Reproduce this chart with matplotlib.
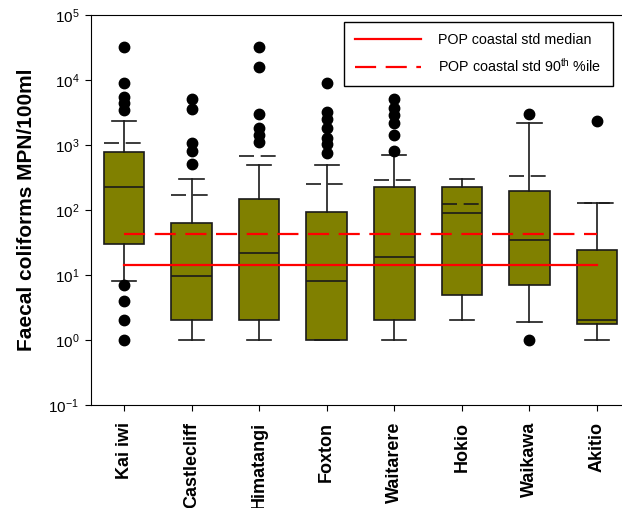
import matplotlib
matplotlib.use("Agg")
import matplotlib.pyplot as plt
import numpy as np

plt.rcParams['font.family'] = ['Liberation Sans', 'DejaVu Sans']
plt.rcParams['mathtext.fontset'] = 'custom'
plt.rcParams['mathtext.rm'] = 'Liberation Sans'
plt.rcParams['mathtext.it'] = 'Liberation Sans:italic'
plt.rcParams['mathtext.bf'] = 'Liberation Sans:bold'
plt.rcParams['axes.unicode_minus'] = False

# faecal coliform summaries per beach (MPN/100ml)
sites = ['Kai iwi', 'Castlecliff', 'Himatangi', 'Foxton', 'Waitarere', 'Hokio', 'Waikawa', 'Akitio']
q1 = [30, 2, 2, 1, 2, 5, 7, 1.75]
med = [225, 9.5, 22, 8, 19, 89, 35, 2]
q3 = [780, 63, 148, 93, 225, 225, 195, 24]
p10 = [8, 1, 1, 1, 1, 2, 1.9, 1]
p90 = [2340, 300, 490, 500, 700, 300, 2200, 127]
means = [1070, 170, 680, 250, 290, 123, 330, 127]
outliers = [
    [32000, 9000, 5500, 4500, 3500, 7, 4, 2, 1],
    [5100, 3600, 1070, 810, 510],
    [32000, 16000, 3000, 1800, 1400, 1100],
    [9000, 3200, 2500, 1800, 1300, 1040, 760],
    [5100, 3700, 2900, 2200, 1400, 810],
    [],
    [3000, 1],
    [2340],
]

# POP coastal standard
std_median = 14
std_p90 = 43

stats = []
for i in range(len(sites)):
    stats.append(dict(label=sites[i], q1=q1[i], med=med[i], q3=q3[i],
                      whislo=p10[i], whishi=p90[i], mean=means[i],
                      fliers=outliers[i]))

fig = plt.figure(figsize=(6.22, 5.08), dpi=100)
ax = fig.add_axes([0.1463, 0.2028, 0.8633, 0.7677])

pos = np.arange(1, len(sites) + 1)
ax.bxp(stats, positions=pos, widths=0.6, patch_artist=True,
       showmeans=True, meanline=True, capwidths=0.36,
       boxprops=dict(facecolor='#808000', edgecolor='#1a1a1a', linewidth=1.2),
       medianprops=dict(color='#1a1a1a', linewidth=1.2),
       whiskerprops=dict(color='#1a1a1a', linewidth=1.2),
       capprops=dict(color='#1a1a1a', linewidth=1.2),
       meanprops=dict(color='#1a1a1a', linewidth=1.2, linestyle=(0, (9, 4))),
       flierprops=dict(marker='o', markerfacecolor='black', markeredgecolor='black',
                       markersize=7.5, linestyle='none'))

ax.plot([pos[0], pos[-1]], [std_median, std_median], color='red', lw=1.6,
        label='POP coastal std median', zorder=5)
ax.plot([pos[0], pos[-1]], [std_p90, std_p90], color='red', lw=1.6,
        linestyle=(0, (9.5, 4.3)), label='POP coastal std 90$^{\\mathrm{th}}$ %ile', zorder=5)

ax.set_yscale('log')
ax.set_ylim(0.1, 1e5)
ax.set_yticks([1e-1, 1, 1e1, 1e2, 1e3, 1e4, 1e5])
ax.minorticks_off()
ax.set_xlim(0.51, 8.46)
ax.set_xticks(pos)
ax.set_xticklabels(sites, rotation=90, fontsize=13, fontweight='bold')
ax.tick_params(axis='y', labelsize=11, length=4.5, direction='out', pad=4)
ax.tick_params(axis='x', length=4, direction='out', pad=8)
ax.spines['right'].set_visible(False)
ax.set_ylabel('Faecal coliforms MPN/100ml', fontsize=15, fontweight='bold', labelpad=9)

leg = ax.legend(loc='upper right', bbox_to_anchor=(0.985, 0.9567),
                bbox_transform=fig.transFigure, borderaxespad=0, fontsize=10.3,
                handlelength=4.6, handletextpad=1.2, labelspacing=0.65,
                borderpad=0.8, fancybox=False, framealpha=1)
leg.get_frame().set_edgecolor('black')
leg.get_frame().set_linewidth(1)

fig.savefig('out.png', dpi=100)
